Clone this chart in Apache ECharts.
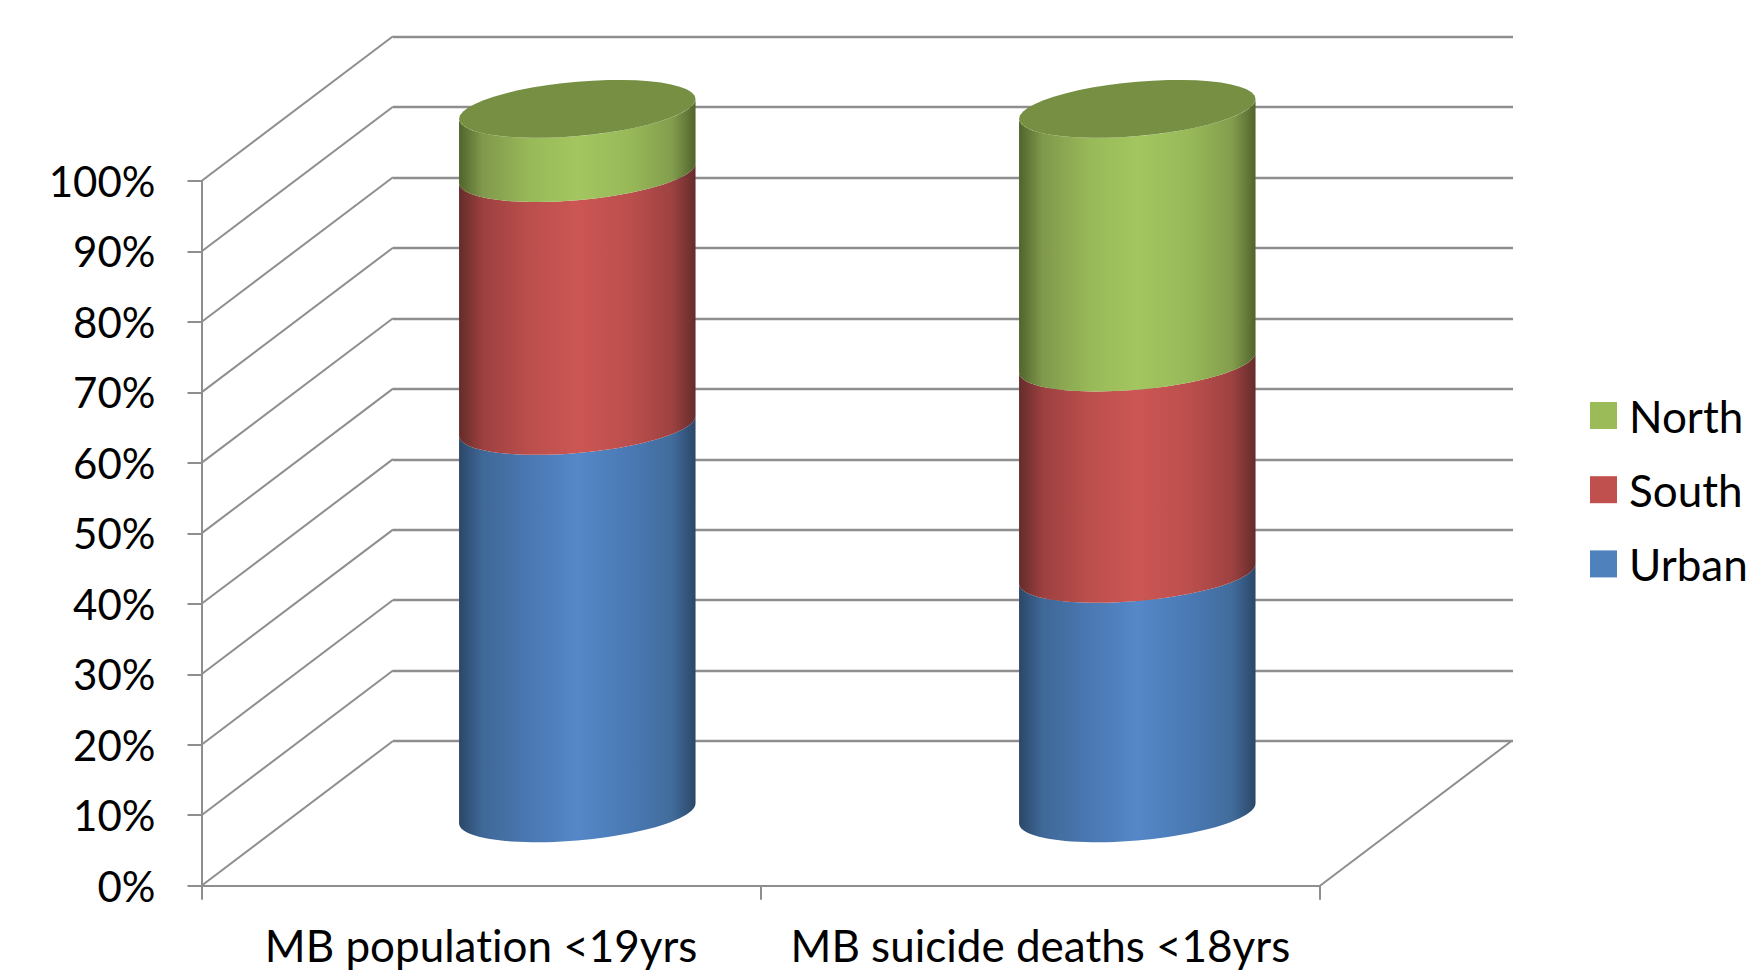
<!DOCTYPE html>
<html>
<head>
<meta charset="utf-8">
<style>html,body{margin:0;padding:0;background:#fff}#c{width:1751px;height:975px}text{font-variant-ligatures:none}</style>
<script src="https://cdn.jsdelivr.net/npm/echarts@6/dist/echarts.min.js"></script>
</head>
<body>
<div id="c"></div>
<script>
var categories = ['MB population <19yrs', 'MB suicide deaths <18yrs'];
var urban = [55.0, 34.0];
var south = [35.9, 30.0];
var north = [9.1, 36.0];
var seriesNames = ['Urban', 'South', 'North'];
var legendOrder = ['North', 'South', 'Urban'];
var wallTicks = [0, 10, 20, 30, 40, 50, 60, 70, 80, 90, 100];

var FONT = 'Lato';
var GREY = '#8e8e8e';
var swatch = ['#4f81bd', '#c0504d', '#9bbb59'];
var shades = [
  ['#2b4769', '#3f6897', '#4a78b2', '#5588c8', '#4a79b4', '#416c9c', '#2b4769'],
  ['#642c2b', '#9c403f', '#bb4f4d', '#cc5653', '#bb4f4d', '#9e4241', '#642c2b'],
  ['#51642c', '#80994c', '#98b958', '#a3c660', '#98b958', '#839e4d', '#51642c']
];
var stops = [0, 0.1, 0.3, 0.5, 0.72, 0.9, 1];
var TOP_COLOR = '#778f42';
var depth = [191.5, -144.7];
var BAR_RATIO = 0.4223;
var TILT = 10 / 118.25, MINOR = 27.2 / 118.25;

function bounds(seriesIndex) {
  var stacks = [urban, south, north];
  return categories.map(function (_, c) {
    var start = 0;
    for (var s = 0; s < seriesIndex; s++) start += stacks[s][c];
    return [c, start, start + stacks[seriesIndex][c]];
  });
}

function arc(center, a, from, to) {
  var pts = [], N = 48;
  for (var i = 0; i <= N; i++) {
    var t = from + (to - from) * i / N;
    pts.push([center[0] + a * Math.cos(t),
              center[1] - a * TILT * Math.cos(t) + a * MINOR * Math.sin(t)]);
  }
  return pts;
}

function cylinderRenderer(idx) {
  return function (params, api) {
    var c = api.value(0), lo = api.coord([c, api.value(1)]), hi = api.coord([c, api.value(2)]);
    var a = api.size([1, 0])[0] * BAR_RATIO / 2;
    var pts = arc(hi, a, Math.PI, 0).concat(arc(lo, a, 0, Math.PI));
    var fill = new echarts.graphic.LinearGradient(0, 0, 1, 0, shades[idx].map(function (col, k) {
      return {offset: stops[k], color: col};
    }));
    var kids = [{type: 'polygon', shape: {points: pts}, style: {fill: fill}}];
    if (idx === 2) {
      kids.push({type: 'polygon', shape: {points: arc(hi, a, 0, Math.PI * 2)}, style: {fill: TOP_COLOR}});
    }
    return {type: 'group', children: kids};
  };
}

function wallRenderer(params, api) {
  var v = api.value(0), edge = api.value(1);
  var p = api.coord([edge, v]), half = api.size([1, 0])[0] / 2;
  var x = edge === 0 ? p[0] - half : p[0] + half;
  return {type: 'line', silent: true,
    shape: {x1: x, y1: p[1], x2: x + depth[0], y2: p[1] + depth[1]},
    style: {stroke: GREY, lineWidth: 2}};
}

var wallData = wallTicks.map(function (t) { return [t, 0]; }).concat([[0, 1]]);

var lineStyle = {color: GREY, width: 2};

var series = [{
  type: 'custom', name: 'walls', coordinateSystem: 'cartesian2d', xAxisIndex: 0, yAxisIndex: 0,
  renderItem: wallRenderer, data: wallData, clip: false, z: 1, silent: true, animation: false,
  encode: {y: 0}
}];
seriesNames.forEach(function (n, i) {
  series.push({
    type: 'custom', name: n, coordinateSystem: 'cartesian2d', xAxisIndex: 2, yAxisIndex: 2,
    renderItem: cylinderRenderer(i), data: bounds(i), clip: false, z: 3 + i,
    itemStyle: {color: swatch[i]}, encode: {x: 0, y: [1, 2]}, animation: false
  });
});

var option = {
  backgroundColor: '#fff',
  animation: false,
  legend: {
    data: legendOrder, orient: 'vertical', left: 1590, top: 393.5, padding: 0,
    itemWidth: 27, itemHeight: 27, itemGap: 30.2, icon: 'rect', selectedMode: false,
    textStyle: {color: '#000', fontFamily: FONT, fontSize: 44, lineHeight: 27, padding: [0, 0, 0, 7]}
  },
  grid: [
    {left: 201.5, width: 1118.5, top: 181, height: 704.7},
    {left: 393, width: 1120, top: 36.7, height: 704.3},
    {left: 297.3, width: 1120, top: 108.9, height: 704.4}
  ],
  xAxis: [
    {type: 'category', gridIndex: 0, data: categories, z: 2,
     axisLine: {show: true, lineStyle: lineStyle},
     axisTick: {show: true, length: 14, lineStyle: lineStyle, alignWithLabel: false},
     axisLabel: {margin: 37, interval: 0, color: '#000', fontFamily: FONT, fontSize: 44}},
    {type: 'category', gridIndex: 1, data: categories, show: false},
    {type: 'category', gridIndex: 2, data: categories, show: false}
  ],
  yAxis: [
    {type: 'value', gridIndex: 0, min: 0, max: 100, interval: 10, z: 2,
     axisLine: {show: true, lineStyle: lineStyle},
     axisTick: {show: true, length: 14, lineStyle: lineStyle},
     splitLine: {show: false},
     axisLabel: {margin: 46, formatter: '{value}%', color: '#000', fontFamily: FONT, fontSize: 42, padding: [8, 0, 0, 0]}},
    {type: 'value', gridIndex: 1, min: 0, max: 100, interval: 10,
     axisLine: {show: false}, axisTick: {show: false}, axisLabel: {show: false},
     splitLine: {show: true, lineStyle: {color: GREY, width: 2.4}}},
    {type: 'value', gridIndex: 2, min: 0, max: 100, interval: 10,
     axisLine: {show: false}, axisTick: {show: false}, axisLabel: {show: false},
     splitLine: {show: false}}
  ],
  series: series
};
echarts.init(document.getElementById('c'), null, {renderer: 'svg'}).setOption(option);
</script>
</body>
</html>
